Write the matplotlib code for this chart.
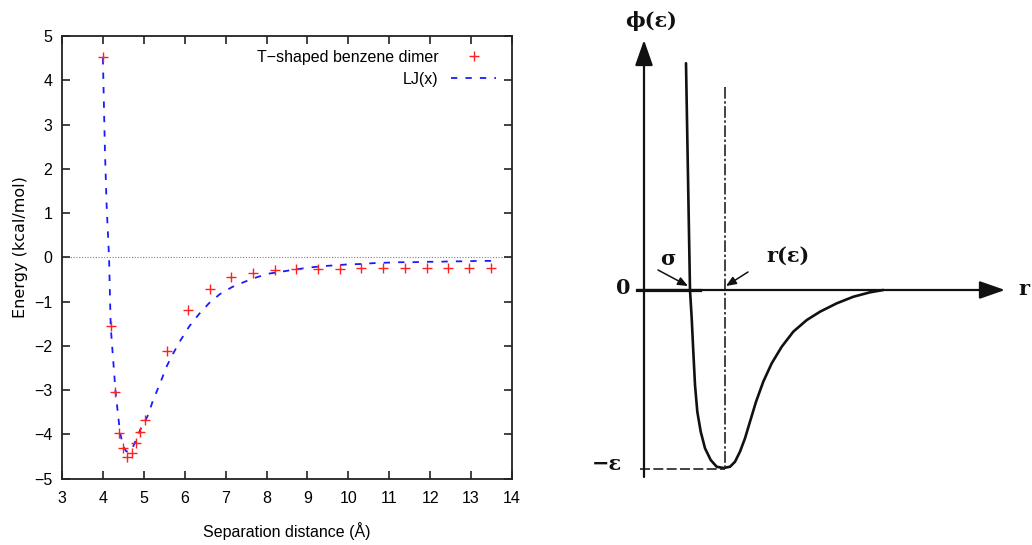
import matplotlib
matplotlib.use("Agg")
import matplotlib.pyplot as plt

# ---------------- Left panel data ----------------
dimer_x = [4.0, 4.2, 4.3, 4.4, 4.5, 4.6, 4.7, 4.8, 4.9, 5.03,
           5.56, 6.09, 6.62, 7.14, 7.67, 8.20, 8.73, 9.26, 9.79,
           10.32, 10.85, 11.38, 11.91, 12.44, 12.96, 13.49]
dimer_e = [4.52, -1.56, -3.05, -3.97, -4.31, -4.50, -4.43, -4.19, -3.95, -3.67,
           -2.12, -1.20, -0.72, -0.45, -0.35, -0.29, -0.27, -0.26, -0.26,
           -0.25, -0.25, -0.25, -0.23, -0.23, -0.23, -0.23]

lj_x = [4.00, 4.01, 4.05, 4.09, 4.15, 4.19, 4.31, 4.42, 4.50, 4.56, 4.62,
        4.68, 4.74, 4.91, 5.09, 5.23, 5.40, 5.56, 5.70, 5.90, 6.11, 6.35,
        6.60, 6.86, 7.16, 7.47, 7.76, 8.04, 8.39, 8.73, 9.05, 9.35, 9.67,
        9.98, 10.31, 10.63, 10.94, 11.26, 11.57, 11.89, 12.21, 12.53,
        12.85, 13.16, 13.49]
lj_e = [4.50, 4.05, 2.39, 1.19, 0.00, -1.56, -3.05, -3.97, -4.27, -4.37, -4.40,
        -4.37, -4.27, -3.90, -3.59, -3.22, -2.84, -2.46, -2.20, -1.87, -1.56, -1.28,
        -1.03, -0.83, -0.67, -0.55, -0.45, -0.37, -0.32, -0.27, -0.23, -0.20, -0.18,
        -0.16, -0.15, -0.13, -0.12, -0.11, -0.11, -0.10, -0.10, -0.09,
        -0.09, -0.08, -0.08]

x_ticks = list(range(3, 15))
y_ticks = list(range(-5, 6))
series_labels = ["T\u2212shaped benzene dimer", "LJ(x)"]
x_label = "Separation distance (\u00c5)"
y_label = "Energy (kcal/mol)"

# ---------------- Right panel (schematic) data ----------------
schem_r = [0.913, 1.0, 1.037, 1.072, 1.109, 1.159, 1.233, 1.326, 1.450,
           1.580, 1.724, 1.870, 1.978, 2.087, 2.196, 2.304, 2.435, 2.593,
           2.776, 2.993, 3.246, 3.537, 3.826, 4.189, 4.550, 4.913, 5.202]
schem_phi = [1.274, 0.0, -0.159, -0.347, -0.534, -0.684, -0.796, -0.889, -0.955,
             -0.993, -1.0, -0.993, -0.965, -0.908, -0.833, -0.740, -0.628, -0.515,
             -0.412, -0.319, -0.234, -0.169, -0.122, -0.075, -0.038, -0.013, 0.0]
schem_labels = ["\u03d5(\u03b5)", "0", "\u2212\u03b5", "\u03c3", "r(\u03b5)", "r"]
sigma_r = 1.0
r_eps = 1.761
eps_level = -1.0

sans = ['Liberation Sans', 'DejaVu Sans']

fig = plt.figure(figsize=(10.32, 5.45), dpi=100)

# ================= Left panel =================
ax = fig.add_axes([62/1032, 1 - 478.7/545, 450/1032, (478.7-36)/545])
ax.axhline(0, color='#808080', lw=0.8, ls=(0, (1, 1.5)), zorder=1)
ax.plot(lj_x, lj_e, color='#1a1aff', lw=1.3, ls=(0, (3.5, 4.5)), label=series_labels[1], zorder=2)
ax.plot(dimer_x, dimer_e, ls='none', marker='+', ms=7.5, mew=1.0, color='#ff2020',
        label=series_labels[0], zorder=3)
ax.set_xlim(3, 14)
ax.set_ylim(-5, 5)
ax.set_xticks(x_ticks)
ax.set_yticks(y_ticks)
ax.set_xticklabels([str(t) for t in x_ticks], family=sans, fontsize=11.5)
ax.set_yticklabels([str(t).replace('-', '\u2212') for t in y_ticks], family=sans, fontsize=11.5)
ax.tick_params(direction='in', length=6, width=1.2, top=True, right=True, color='#222222')
ax.tick_params(axis='x', pad=9)
ax.tick_params(axis='y', pad=7)
for s in ax.spines.values():
    s.set_linewidth(1.3)
    s.set_color('#222222')
ax.set_xlabel(x_label, family=sans, fontsize=11.5)
ax.xaxis.set_label_coords(0.5, -0.098)
ax.set_ylabel(y_label, family=['DejaVu Sans'], fontsize=11.5)
ax.yaxis.set_label_coords(-0.076, 0.523)
h, l = ax.get_legend_handles_labels()
leg = ax.legend(h[::-1], l[::-1], loc='upper right', bbox_to_anchor=(0.99, 0.994),
                frameon=False, markerfirst=False, prop={'family': sans, 'size': 11.5},
                handlelength=2.85, handletextpad=0.75, labelspacing=0.42, borderpad=0.2)

# ================= Right panel =================
px = 46.0   # pixels per r unit
py = 178.0  # pixels per phi unit
ox, oy = 644.0, 290.0
left_px, right_px = 520, 1032
axr = fig.add_axes([left_px/1032, 0, (right_px-left_px)/1032, 1])
axr.set_xlim((left_px-ox)/px, (right_px-ox)/px)
axr.set_ylim((oy-545)/py, oy/py)
axr.axis('off')

def P(xp, yp):
    return ((xp - ox)/px, (oy - yp)/py)

arrow_kw = dict(arrowstyle='-|>,head_length=1.2,head_width=0.42', lw=1.6, color='#111111',
                shrinkA=0, shrinkB=0, mutation_scale=13)
# vertical axis
axr.annotate('', xy=P(644, 40), xytext=P(644, 477), arrowprops=arrow_kw)
# horizontal axis
axr.annotate('', xy=P(1005, 290), xytext=P(637, 290), arrowprops=arrow_kw)
axr.plot(*zip(P(637, 290), P(700, 290)), color='#111111', lw=2.3)

# potential curve
axr.plot(schem_r, schem_phi, color='#111111', lw=1.9, solid_capstyle='round',
         solid_joinstyle='round')
# dashed guides
axr.plot([r_eps, r_eps], [P(0, 87)[1], eps_level], color='#222222', lw=1.2,
         ls=(0, (7, 1.5, 1.5, 1.5)))
axr.plot([P(640, 0)[0], r_eps], [eps_level - 0.006, eps_level - 0.006], color='#222222', lw=1.2,
         ls=(0, (6, 2)))

# labels
serif = ['DejaVu Serif']
tkw = dict(family=serif, fontsize=15, fontweight='bold', ha='center', va='center', color='#111111')
axr.text(*P(651, 21), schem_labels[0], **tkw)
axr.text(*P(623, 288), schem_labels[1], **tkw)
axr.text(*P(607, 464), schem_labels[2], **tkw)
axr.text(*P(668, 259), schem_labels[3], **tkw)
axr.text(*P(788, 256), schem_labels[4], **tkw)
axr.text(*P(1024, 289), schem_labels[5], **tkw)

small_arrow = dict(arrowstyle='-|>,head_length=0.6,head_width=0.25', lw=1.1, color='#111111',
                   shrinkA=0, shrinkB=0, mutation_scale=10)
axr.annotate('', xy=P(688, 286), xytext=P(658, 270), arrowprops=small_arrow)
axr.annotate('', xy=P(726, 286), xytext=P(748, 272), arrowprops=small_arrow)

fig.savefig("out.png", dpi=100)
